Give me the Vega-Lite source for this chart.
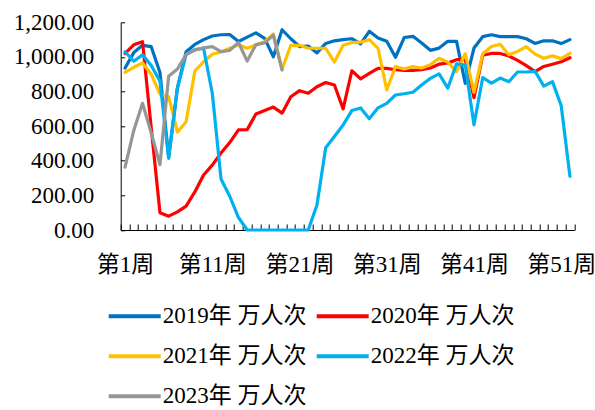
{
  "$schema": "https://vega.github.io/schema/vega-lite/v6.json",
  "width": 453.6,
  "height": 207.7,
  "autosize": {"type": "none"},
  "padding": {"left": 120.7, "top": 22.3, "right": 20.7, "bottom": 180},
  "background": "white",
  "config": {
    "view": {"stroke": null},
    "axis": {"grid": false, "title": null, "domainColor": "black", "tickColor": "black", "labelColor": "black", "labelFont": "Liberation Serif, Noto Sans CJK SC", "labelFontSize": 23, "domainWidth": 1, "tickWidth": 1}
  },
  "data": {"values": [
    {"week": 1, "2019年 万人次": 936, "2020年 万人次": 1020, "2021年 万人次": 910, "2022年 万人次": 1030, "2023年 万人次": 363},
    {"week": 2, "2019年 万人次": 1025, "2020年 万人次": 1070, "2021年 万人次": 940, "2022年 万人次": 975, "2023年 万人次": 575},
    {"week": 3, "2019年 万人次": 1067, "2020年 万人次": 1088, "2021年 万人次": 965, "2022年 万人次": 1012, "2023年 万人次": 732},
    {"week": 4, "2019年 万人次": 1059, "2020年 万人次": 590, "2021年 万人次": 900, "2022年 万人次": 950, "2023年 万人次": 560},
    {"week": 5, "2019年 万人次": 910, "2020年 万人次": 100, "2021年 万人次": 785, "2022年 万人次": 860, "2023年 万人次": 378},
    {"week": 6, "2019年 万人次": 420, "2020年 万人次": 80, "2021年 万人次": 770, "2022年 万人次": 414, "2023年 万人次": 888},
    {"week": 7, "2019年 万人次": 820, "2020年 万人次": 105, "2021年 万人次": 565, "2022年 万人次": 820, "2023年 万人次": 930},
    {"week": 8, "2019年 万人次": 1030, "2020年 万人次": 138, "2021年 万人次": 625, "2022年 万人次": 1015, "2023年 万人次": 1013},
    {"week": 9, "2019年 万人次": 1072, "2020年 万人次": 220, "2021年 万人次": 918, "2022年 万人次": 1042, "2023年 万人次": 1040},
    {"week": 10, "2019年 万人次": 1100, "2020年 万人次": 318, "2021年 万人次": 972, "2022年 万人次": 1050, "2023年 万人次": 1052},
    {"week": 11, "2019年 万人次": 1121, "2020年 万人次": 375, "2021年 万人次": 1015, "2022年 万人次": 790, "2023年 万人次": 1059},
    {"week": 12, "2019年 万人次": 1128, "2020年 万人次": 445, "2021年 万人次": 1028, "2022年 万人次": 295, "2023年 万人次": 1030},
    {"week": 13, "2019年 万人次": 1129, "2020年 万人次": 505, "2021年 万人次": 1050, "2022年 万人次": 195, "2023年 万人次": 1038},
    {"week": 14, "2019年 万人次": 1089, "2020年 万人次": 578, "2021年 万人次": 1069, "2022年 万人次": 72, "2023年 万人次": 1083},
    {"week": 15, "2019年 万人次": 1114, "2020年 万人次": 580, "2021年 万人次": 1050, "2022年 万人次": 0, "2023年 万人次": 976},
    {"week": 16, "2019年 万人次": 1139, "2020年 万人次": 670, "2021年 万人次": 1069, "2022年 万人次": 0, "2023年 万人次": 1071},
    {"week": 17, "2019年 万人次": 1107, "2020年 万人次": 690, "2021年 万人次": 1088, "2022年 万人次": 0, "2023年 万人次": 1081},
    {"week": 18, "2019年 万人次": 1001, "2020年 万人次": 710, "2021年 万人次": 1133, "2022年 万人次": 0, "2023年 万人次": 1125},
    {"week": 19, "2019年 万人次": 1157, "2020年 万人次": 675, "2021年 万人次": 928, "2022年 万人次": 0, "2023年 万人次": 924},
    {"week": 20, "2019年 万人次": 1105, "2020年 万人次": 770, "2021年 万人次": 1067, "2022年 万人次": 0},
    {"week": 21, "2019年 万人次": 1060, "2020年 万人次": 805, "2021年 万人次": 1067, "2022年 万人次": 0},
    {"week": 22, "2019年 万人次": 1063, "2020年 万人次": 790, "2021年 万人次": 1050, "2022年 万人次": 0},
    {"week": 23, "2019年 万人次": 1023, "2020年 万人次": 828, "2021年 万人次": 1050, "2022年 万人次": 144},
    {"week": 24, "2019年 万人次": 1078, "2020年 万人次": 852, "2021年 万人次": 1050, "2022年 万人次": 475},
    {"week": 25, "2019年 万人次": 1093, "2020年 万人次": 838, "2021年 万人次": 970, "2022年 万人次": 540},
    {"week": 26, "2019年 万人次": 1100, "2020年 万人次": 700, "2021年 万人次": 1067, "2022年 万人次": 607},
    {"week": 27, "2019年 万人次": 1105, "2020年 万人次": 920, "2021年 万人次": 1083, "2022年 万人次": 690},
    {"week": 28, "2019年 万人次": 1075, "2020年 万人次": 873, "2021年 万人次": 1085, "2022年 万人次": 705},
    {"week": 29, "2019年 万人次": 1148, "2020年 万人次": 905, "2021年 万人次": 1100, "2022年 万人次": 643},
    {"week": 30, "2019年 万人次": 1109, "2020年 万人次": 934, "2021年 万人次": 1050, "2022年 万人次": 706},
    {"week": 31, "2019年 万人次": 1090, "2020年 万人次": 934, "2021年 万人次": 809, "2022年 万人次": 732},
    {"week": 32, "2019年 万人次": 998, "2020年 万人次": 926, "2021年 万人次": 945, "2022年 万人次": 780},
    {"week": 33, "2019年 万人次": 1112, "2020年 万人次": 922, "2021年 万人次": 930, "2022年 万人次": 787},
    {"week": 34, "2019年 万人次": 1119, "2020年 万人次": 922, "2021年 万人次": 944, "2022年 万人次": 796},
    {"week": 35, "2019年 万人次": 1080, "2020年 万人次": 926, "2021年 万人次": 936, "2022年 万人次": 838},
    {"week": 36, "2019年 万人次": 1038, "2020年 万人次": 936, "2021年 万人次": 955, "2022年 万人次": 876},
    {"week": 37, "2019年 万人次": 1051, "2020年 万人次": 958, "2021年 万人次": 992, "2022年 万人次": 902},
    {"week": 38, "2019年 万人次": 1090, "2020年 万人次": 965, "2021年 万人次": 970, "2022年 万人次": 820},
    {"week": 39, "2019年 万人次": 1090, "2020年 万人次": 984, "2021年 万人次": 915, "2022年 万人次": 960},
    {"week": 40, "2019年 万人次": 847, "2020年 万人次": 985, "2021年 万人次": 1018, "2022年 万人次": 953},
    {"week": 41, "2019年 万人次": 1051, "2020年 万人次": 765, "2021年 万人次": 795, "2022年 万人次": 608},
    {"week": 42, "2019年 万人次": 1117, "2020年 万人次": 1010, "2021年 万人次": 1018, "2022年 万人次": 880},
    {"week": 43, "2019年 万人次": 1128, "2020年 万人次": 1020, "2021年 万人次": 1060, "2022年 万人次": 849},
    {"week": 44, "2019年 万人次": 1117, "2020年 万人次": 1020, "2021年 万人次": 1073, "2022年 万人次": 878},
    {"week": 45, "2019年 万人次": 1117, "2020年 万人次": 1005, "2021年 万人次": 1012, "2022年 万人次": 857},
    {"week": 46, "2019年 万人次": 1117, "2020年 万人次": 980, "2021年 万人次": 1032, "2022年 万人次": 913},
    {"week": 47, "2019年 万人次": 1105, "2020年 万人次": 950, "2021年 万人次": 1059, "2022年 万人次": 913},
    {"week": 48, "2019年 万人次": 1078, "2020年 万人次": 915, "2021年 万人次": 1016, "2022年 万人次": 917},
    {"week": 49, "2019年 万人次": 1093, "2020年 万人次": 945, "2021年 万人次": 992, "2022年 万人次": 831},
    {"week": 50, "2019年 万人次": 1093, "2020年 万人次": 958, "2021年 万人次": 1006, "2022年 万人次": 857},
    {"week": 51, "2019年 万人次": 1077, "2020年 万人次": 972, "2021年 万人次": 990, "2022年 万人次": 718},
    {"week": 52, "2019年 万人次": 1100, "2020年 万人次": 995, "2021年 万人次": 1021, "2022年 万人次": 310}
  ]},
  "transform": [
    {"fold": ["2019年 万人次", "2020年 万人次", "2021年 万人次", "2022年 万人次", "2023年 万人次"], "as": ["series", "value"]}
  ],
  "mark": {"type": "line", "strokeWidth": 3.2, "strokeJoin": "round", "strokeCap": "round"},
  "encoding": {
    "x": {
      "field": "week", "type": "ordinal", "bandPosition": 0.5,
      "scale": {"type": "band", "paddingInner": 0, "paddingOuter": 0},
      "axis": {"labelExpr": "datum.value % 10 == 1 ? '第' + datum.value + '周' : ''", "labelAngle": 0, "labelOverlap": false, "tickBand": "extent", "tickSize": -6, "labelPadding": 29.5}
    },
    "y": {
      "field": "value", "type": "quantitative",
      "scale": {"domain": [0, 1200], "nice": false},
      "axis": {"values": [0, 200, 400, 600, 800, 1000, 1200], "format": ",.2f", "tickSize": -4, "labelPadding": 31}
    },
    "color": {
      "field": "series", "type": "nominal",
      "scale": {"domain": ["2019年 万人次", "2020年 万人次", "2021年 万人次", "2022年 万人次", "2023年 万人次"], "range": ["#0070C0", "#FF0000", "#FFC000", "#00B0F0", "#969696"]},
      "legend": {"orient": "none", "legendX": -14, "legendY": 266, "direction": "horizontal", "columns": 2, "title": null, "symbolType": "stroke", "symbolSize": 2704, "symbolStrokeWidth": 4, "labelFont": "Liberation Serif, Noto Sans CJK SC", "labelFontSize": 23, "labelColor": "black", "labelOffset": 0, "columnPadding": 2, "rowPadding": -7, "labelLimit": 300}
    }
  }
}
